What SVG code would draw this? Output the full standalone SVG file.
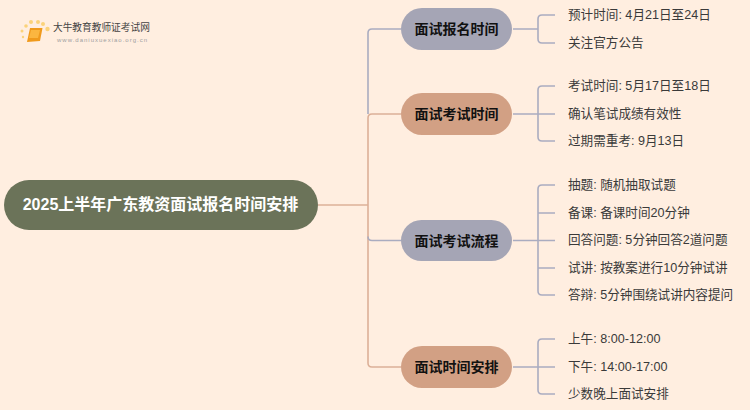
<svg xmlns="http://www.w3.org/2000/svg" width="750" height="410" viewBox="0 0 750 410">
<style>
.cjk{font-family:"Liberation Sans","Noto Sans CJK SC",sans-serif}
.leaf{font-size:12.600px;fill:#3a3a3a}
.n{font-size:14px;font-weight:700;fill:#111;text-anchor:middle;dominant-baseline:central}
.l{fill:none;stroke-width:1.6}
.p{stroke:#aaacc0}
.o{stroke:#dcb098}
</style>
<rect width="750" height="410" fill="#ffeee0"/>
<g id="logo">
<g fill="#fbd27a"><circle cx="22" cy="31" r="1.500"/><circle cx="26" cy="26" r="1.800"/><circle cx="31" cy="22" r="2"/><circle cx="38" cy="22" r="2"/><circle cx="43" cy="24" r="2"/><circle cx="47.500" cy="29" r="2.200"/><circle cx="23" cy="37" r="1.200"/></g>
<path d="M30 28h12.500l-2.500 13H40l-13 1z" fill="#f09a1c"/><path d="M31 30h9l-2 8h-9z" fill="#fbb640"/>
<text class="cjk" x="53" y="31" font-size="9.700" fill="#444">大牛教育教师证考试网</text>
<text x="57" y="41.500" font-size="6" letter-spacing="1" fill="#a0a0a0" font-family="Liberation Sans,sans-serif">www.daniuxuexiao.org.cn</text>
</g>
<g id="connectors">
<path class="l o" d="M318 205H368"/>
<path class="l p" d="M401 29H372Q368 29 368 33V114"/>
<path class="l o" d="M401 114H372Q368 114 368 118V363Q368 367 372 367H401"/>
<path class="l p" d="M401 240.500H372Q368 240.500 368 236.500"/>
<path class="l p" d="M513 29H538M555 15H542Q538 15 538 19V39Q538 43 542 43H555"/>
<path class="l p" d="M513 114H555M555 86H542Q538 86 538 90V137Q538 141 542 141H555"/>
<path class="l p" d="M513 240.500H555M555 185H542Q538 185 538 189V291Q538 295 542 295H555M538 213H555M538 268H555"/>
<path class="l p" d="M513 367H555M555 339H542Q538 339 538 343V390Q538 394 542 394H555"/>
</g>
<g id="root"><rect x="4" y="180" width="314" height="50" rx="25" fill="#6b7359"/><text class="cjk" x="160.500" y="204.500" font-size="16" font-weight="700" fill="#fff" text-anchor="middle" dominant-baseline="central">2025上半年广东教资面试报名时间安排</text></g>
<g id="node1"><rect x="401" y="8" width="111" height="42" rx="21" fill="#a5a5b5"/><text class="cjk n" x="456.500" y="29">面试报名时间</text></g>
<g id="node2"><rect x="401" y="93" width="111" height="42" rx="21" fill="#d2a084"/><text class="cjk n" x="456.500" y="114">面试考试时间</text></g>
<g id="node3"><rect x="401" y="220" width="111" height="41" rx="20.500" fill="#a5a5b5"/><text class="cjk n" x="456.500" y="240.500">面试考试流程</text></g>
<g id="node4"><rect x="401" y="346" width="111" height="42" rx="21" fill="#d2a084"/><text class="cjk n" x="456.500" y="367">面试时间安排</text></g>
<g id="leaves" class="cjk leaf">
<text x="568" y="19">预计时间: 4月21日至24日</text>
<text x="568" y="47">关注官方公告</text>
<text x="568" y="90">考试时间: 5月17日至18日</text>
<text x="568" y="118">确认笔试成绩有效性</text>
<text x="568" y="145">过期需重考: 9月13日</text>
<text x="568" y="189">抽题: 随机抽取试题</text>
<text x="568" y="216.500">备课: 备课时间20分钟</text>
<text x="568" y="244">回答问题: 5分钟回答2道问题</text>
<text x="568" y="271.500">试讲: 按教案进行10分钟试讲</text>
<text x="568" y="299">答辩: 5分钟围绕试讲内容提问</text>
<text x="568" y="343">上午: 8:00-12:00</text>
<text x="568" y="371">下午: 14:00-17:00</text>
<text x="568" y="398">少数晚上面试安排</text>
</g>
</svg>
